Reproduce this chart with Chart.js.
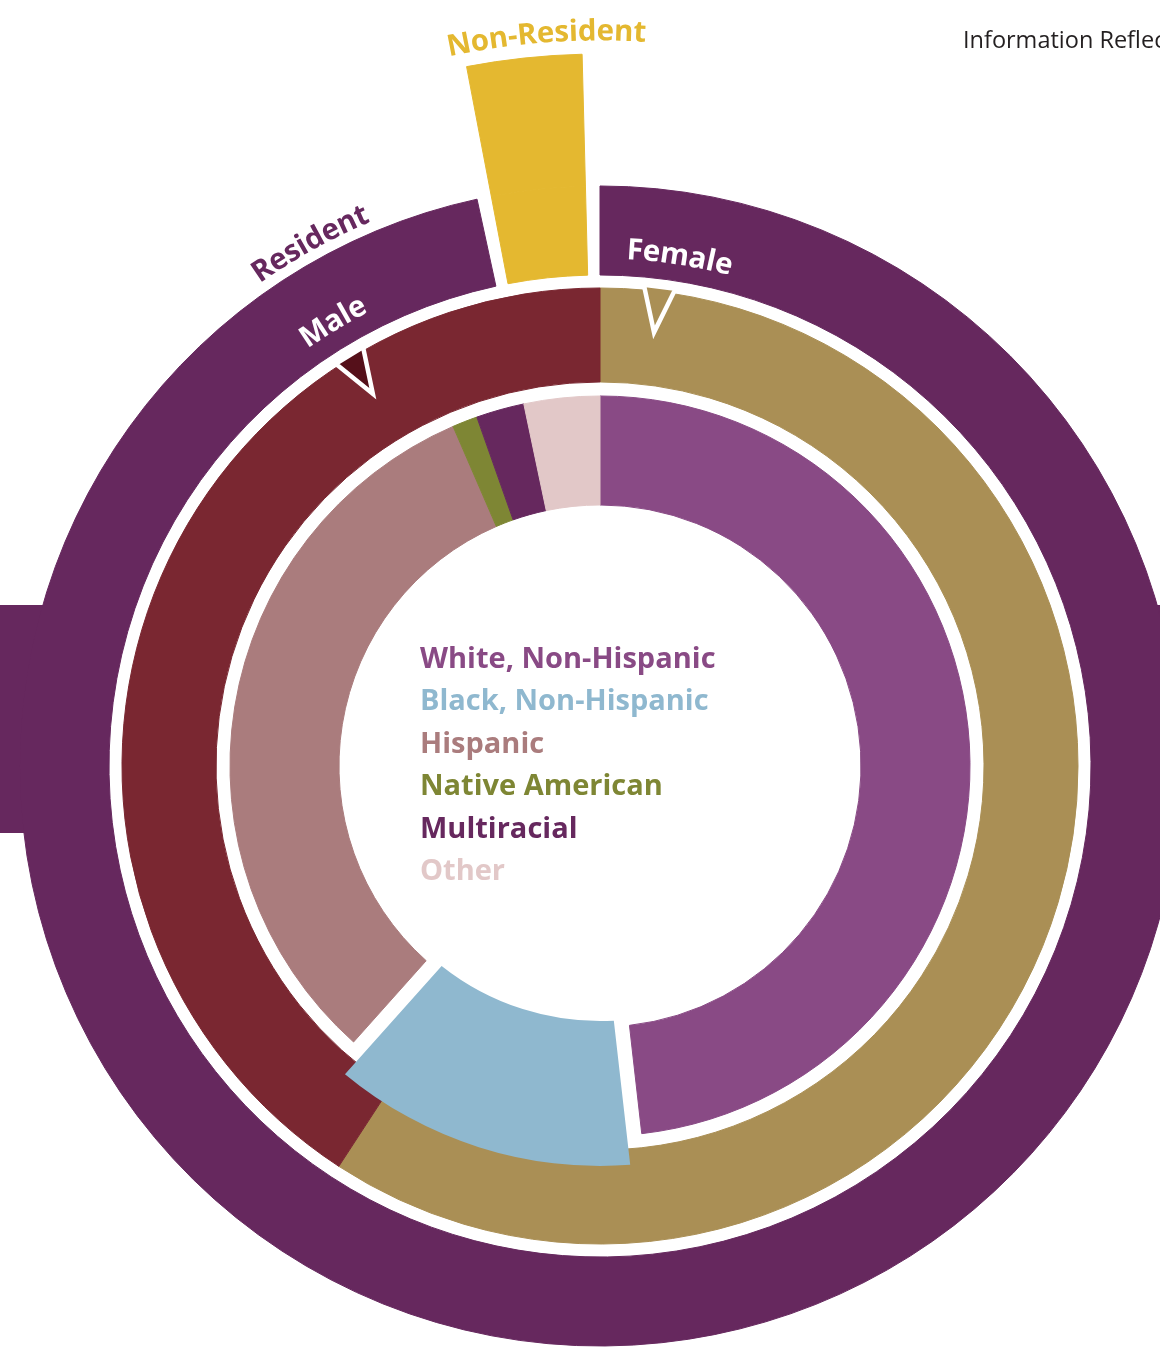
<!DOCTYPE html>
<html>
<head>
<meta charset="utf-8">
<script src="https://cdn.jsdelivr.net/npm/chart.js@4.4.1/dist/chart.umd.min.js"></script>
<style>
  html, body { margin: 0; padding: 0; background: #fff; }
  #wrap { width: 1160px; height: 1357px; position: relative; overflow: hidden; }
</style>
</head>
<body>
<div id="wrap"><canvas id="chart" width="1160" height="1357"></canvas></div>
<script>
// data (percent of the ring)
const residencyLabels = ['Resident', 'Non-Resident'];
const residencyValues = [96.6, 3.4];
const genderLabels = ['Female', 'Male'];
const genderValues = [59.2, 40.8];
const raceLabels = ['White, Non-Hispanic', 'Black, Non-Hispanic', 'Hispanic', 'Native American', 'Multiracial', 'Other'];
const raceValues = [48.2, 13.4, 31.9, 1.1, 2.1, 3.3];

// colours
const RESIDENT = '#66285E';
const NON_RESIDENT = '#E4B830';
const genderColors = ['#AA8F55', '#7A2731'];
const raceColors = ['#894A85', '#8FB8CF', '#AA7C7D', '#7E8634', '#66285E', '#E2C8C8'];
const CLEAR = 'rgba(0,0,0,0)';

const GAP = 0.4;          // white wedge either side of Non-Resident, in value units
const EMPHASIS = 1;       // Black, Non-Hispanic is pulled out in the picture
const FONT = '"Open Sans", "Noto Sans", sans-serif';

const residencyData = [residencyValues[0], GAP, residencyValues[1] - 2 * GAP, GAP];

function ring(data, colors, weight, extra) {
    return Object.assign({
        data: data,
        backgroundColor: colors,
        borderColor: colors,
        borderWidth: 1,
        weight: weight,
        clip: false
    }, extra || {});
}

function spacer(weight) {
    return { data: [1], backgroundColor: CLEAR, borderWidth: 0, weight: weight, clip: false };
}

const raceFill = raceColors.map((c, i) => i === EMPHASIS ? CLEAR : c);

const datasets = [
    ring(residencyData, [CLEAR, CLEAR, NON_RESIDENT, CLEAR], 132),       // Non-Resident sticks out
    ring(residencyData, [RESIDENT, CLEAR, NON_RESIDENT, CLEAR], 89),
    spacer(13),
    ring(genderValues, genderColors, 94),
    spacer(14),
    ring(raceValues, raceFill, 109)
];
const RES_RING = 1, GENDER_RING = 3, RACE_RING = 5;

function rad(deg) { return deg * Math.PI / 180; }

function drawArcText(ctx, text, cx, cy, radius, midDeg) {
    const total = ctx.measureText(text).width;
    let a = rad(midDeg) - total / 2 / radius;
    for (const ch of text) {
        const w = ctx.measureText(ch).width;
        const ang = a + w / 2 / radius;
        ctx.save();
        ctx.translate(cx + radius * Math.sin(ang), cy - radius * Math.cos(ang));
        ctx.rotate(ang);
        ctx.fillText(ch, 0, 0);
        ctx.restore();
        a += w / radius;
    }
}

function drawPointer(ctx, cx, cy, deg, rBase, rTip, halfW, fill) {
    const a = rad(deg);
    const ux = Math.sin(a), uy = -Math.cos(a);
    const tx = Math.cos(a), ty = Math.sin(a);
    const bx = cx + rBase * ux, by = cy + rBase * uy;
    ctx.beginPath();
    ctx.moveTo(bx - halfW * tx, by - halfW * ty);
    ctx.lineTo(bx + halfW * tx, by + halfW * ty);
    ctx.lineTo(cx + rTip * ux, cy + rTip * uy);
    ctx.closePath();
    ctx.fillStyle = fill;
    ctx.fill();
    ctx.lineWidth = 4.5;
    ctx.lineJoin = 'miter';
    ctx.strokeStyle = '#fff';
    ctx.stroke();
}

const decorations = {
    id: 'decorations',
    beforeDatasetsDraw(chart) {
        // purple bands that run off the left and right edges
        const ctx = chart.ctx;
        const arc = chart.getDatasetMeta(RES_RING).data[0];
        const R = arc.outerRadius;
        const dyTop = 161, dyBot = 67;
        const half = Math.sqrt(R * R - dyTop * dyTop);
        ctx.save();
        ctx.fillStyle = RESIDENT;
        ctx.fillRect(0, arc.y - dyTop, arc.x - half + 1, dyTop + dyBot);
        ctx.fillRect(arc.x + half - 1, arc.y - dyTop, chart.width, dyTop + dyBot);
        ctx.restore();
    },
    afterDatasetsDraw(chart) {
        const ctx = chart.ctx;
        // pulled-out slice: thicker ring piece with parallel white gaps
        const el = chart.getDatasetMeta(RACE_RING).data[EMPHASIS];
        const rIn = el.innerRadius - 6, rOut = el.outerRadius + 30, g = 15;
        ctx.save();
        ctx.beginPath();
        ctx.arc(el.x, el.y, rOut, el.startAngle + Math.asin(g / rOut), el.endAngle - Math.asin(g / rOut));
        ctx.arc(el.x, el.y, rIn, el.endAngle - Math.asin(g / rIn), el.startAngle + Math.asin(g / rIn), true);
        ctx.closePath();
        ctx.fillStyle = raceColors[EMPHASIS];
        ctx.fill();
        ctx.restore();

        // pointers under the gender labels
        const gen = chart.getDatasetMeta(GENDER_RING).data[0];
        const cx = gen.x, cy = gen.y, ro = gen.outerRadius;
        ctx.save();
        drawPointer(ctx, cx, cy, 7.1, ro + 5, ro - 41, 16, genderColors[0]);
        drawPointer(ctx, cx, cy, -31.4, ro + 3, ro - 42, 16, '#55101A');
        ctx.restore();

        // ring labels
        ctx.save();
        ctx.font = '700 29.5px ' + FONT;
        ctx.textAlign = 'center';
        ctx.textBaseline = 'middle';
        ctx.fillStyle = '#ffffff';
        drawArcText(ctx, genderLabels[0], cx, cy, 516, 8.9);
        drawArcText(ctx, genderLabels[1], cx, cy, 518, -31.0);
        ctx.fillStyle = RESIDENT;
        drawArcText(ctx, residencyLabels[0], cx, cy, 599, -29.0);
        ctx.fillStyle = NON_RESIDENT;
        drawArcText(ctx, residencyLabels[1], cx, cy, 734, -4.2);
        ctx.restore();

        // legend in the hole
        ctx.save();
        ctx.font = '700 29px ' + FONT;
        ctx.textAlign = 'left';
        ctx.textBaseline = 'alphabetic';
        raceLabels.forEach((label, i) => {
            ctx.fillStyle = raceColors[i];
            ctx.fillText(label, cx - 180, cy - 98 + i * 42.4);
        });
        ctx.restore();

        // note at top right, cut by the page edge
        ctx.save();
        ctx.font = '400 23.5px ' + FONT;
        ctx.fillStyle = '#231F20';
        ctx.textBaseline = 'alphabetic';
        ctx.fillText('Information Reflects', 963, 48);
        ctx.restore();
    }
};

new Chart(document.getElementById('chart'), {
    type: 'doughnut',
    data: { labels: raceLabels, datasets: datasets },
    options: {
        responsive: false,
        animation: false,
        events: [],
        radius: 712,
        cutout: '36.66%',
        layout: { padding: { left: 40, top: 175, right: 0, bottom: 0 } },
        plugins: {
            legend: { display: false },
            tooltip: { enabled: false }
        }
    },
    plugins: [decorations]
});
</script>
</body>
</html>
